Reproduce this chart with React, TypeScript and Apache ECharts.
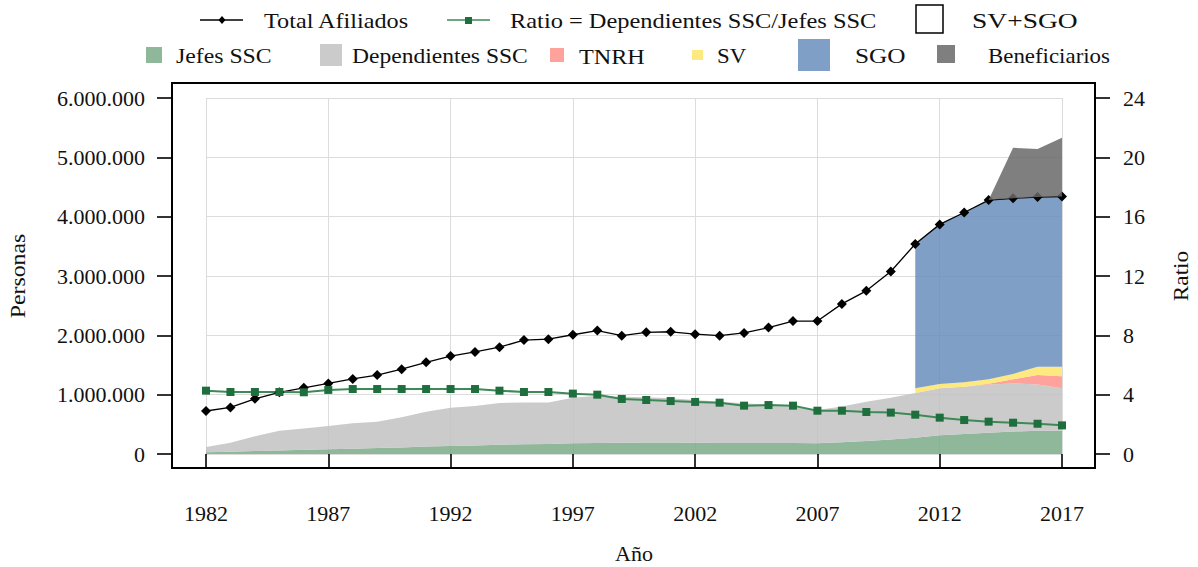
import React, { useEffect, useRef } from "react";
import * as echarts from "echarts";

const years = ["1982", "1983", "1984", "1985", "1986", "1987", "1988", "1989", "1990", "1991", "1992", "1993", "1994", "1995", "1996", "1997", "1998", "1999", "2000", "2001", "2002", "2003", "2004", "2005", "2006", "2007", "2008", "2009", "2010", "2011", "2012", "2013", "2014", "2015", "2016", "2017"];

const totalAfiliados = [725000, 785000, 930000, 1040000, 1115000, 1190000, 1265000, 1330000, 1430000, 1545000, 1650000, 1720000, 1800000, 1920000, 1935000, 2010000, 2080000, 1995000, 2050000, 2060000, 2020000, 1995000, 2040000, 2130000, 2240000, 2240000, 2530000, 2750000, 3075000, 3540000, 3870000, 4070000, 4280000, 4310000, 4330000, 4340000];

const ratio = [4.27, 4.18, 4.18, 4.18, 4.16, 4.32, 4.38, 4.38, 4.38, 4.38, 4.38, 4.38, 4.27, 4.18, 4.18, 4.07, 4.0, 3.71, 3.64, 3.57, 3.51, 3.46, 3.26, 3.3, 3.26, 2.92, 2.92, 2.83, 2.79, 2.65, 2.45, 2.29, 2.18, 2.11, 2.04, 1.93];

const jefesSSC = [30000, 40000, 50000, 60000, 70000, 80000, 90000, 100000, 110000, 125000, 135000, 145000, 155000, 165000, 170000, 180000, 185000, 190000, 195000, 195000, 190000, 185000, 185000, 185000, 185000, 180000, 200000, 220000, 245000, 275000, 315000, 335000, 360000, 380000, 390000, 390000];

const dependientesSSC = [90000, 150000, 250000, 330000, 360000, 390000, 430000, 445000, 510000, 585000, 645000, 665000, 705000, 705000, 700000, 770000, 795000, 775000, 760000, 745000, 720000, 695000, 670000, 645000, 615000, 560000, 600000, 660000, 705000, 755000, 795000, 800000, 810000, 810000, 780000, 720000];

const tnrh = [null, null, null, null, null, null, null, null, null, null, null, null, null, null, null, null, null, null, null, null, null, null, null, null, null, null, null, null, null, null, null, 0, 15000, 70000, 160000, 200000];

const sv = [null, null, null, null, null, null, null, null, null, null, null, null, null, null, null, null, null, null, null, null, null, null, null, null, null, null, null, null, null, 80000, 70000, 75000, 75000, 90000, 140000, 160000];

const sgo = [null, null, null, null, null, null, null, null, null, null, null, null, null, null, null, null, null, null, null, null, null, null, null, null, null, null, null, null, null, 2430000, 2690000, 2860000, 3020000, 2960000, 2860000, 2870000];

const beneficiarios = [null, null, null, null, null, null, null, null, null, null, null, null, null, null, null, null, null, null, null, null, null, null, null, null, null, null, null, null, null, null, null, null, 0, 850000, 810000, 990000];

const FONT = "'Liberation Serif', 'Times New Roman', serif";
const FS = 22;
const TXT = "#111";

const fmtDots = (v: number) => String(Math.round(v)).replace(/\B(?=(\d{3})+(?!\d))/g, ".");

function areaSeries(name: string, arr: (number | null)[], color: string, z: number) {
  return {
    name,
    type: "line",
    stack: "personas",
    yAxisIndex: 0,
    data: arr,
    symbol: "none",
    showSymbol: false,
    lineStyle: { width: 0, opacity: 0 },
    areaStyle: { color, opacity: 0.85 },
    z,
    silent: true,
  };
}

function legendText(x: number, y: number, text: string, sx: number) {
  return {
    type: "text",
    x,
    y,
    scaleX: sx,
    style: { text, fontSize: FS, fontFamily: FONT, fill: TXT, align: "left", verticalAlign: "middle" },
  };
}

function legendRect(x: number, y: number, w: number, h: number, fill: string, stroke?: string) {
  return {
    type: "rect",
    shape: { x, y, width: w, height: h },
    style: stroke ? { fill, stroke, lineWidth: 1.5 } : { fill },
  };
}

export default function App() {
  const ref = useRef<HTMLDivElement>(null);

  useEffect(() => {
    if (!ref.current) return;
    const chart = echarts.init(ref.current, null, { renderer: "svg" });

    const axisLabelStyle = { fontSize: FS, fontFamily: FONT, color: TXT };

    const option: any = {
      animation: false,
      backgroundColor: "#ffffff",
      grid: { left: 206, right: 136, top: 98, bottom: 113, containLabel: false },
      xAxis: {
        type: "category",
        data: years,
        boundaryGap: false,
        offset: 14,
        axisLine: { show: false },
        axisTick: { show: true, interval: 4, length: 15, lineStyle: { color: "#000", width: 1.6 } },
        axisLabel: { ...axisLabelStyle, interval: 4, margin: 34 },
        splitLine: { show: true, interval: 4, lineStyle: { color: "#dcdcdc", width: 1 } },
      },
      yAxis: [
        {
          type: "value",
          min: 0,
          max: 6000000,
          interval: 1000000,
          offset: 34,
          position: "left",
          axisLine: { show: false },
          axisTick: { show: true, length: 15, lineStyle: { color: "#000", width: 1.6 } },
          axisLabel: { ...axisLabelStyle, margin: 27, formatter: (v: number) => fmtDots(v) },
          splitLine: { show: true, lineStyle: { color: "#dcdcdc", width: 1 } },
        },
        {
          type: "value",
          min: 0,
          max: 24,
          interval: 4,
          offset: 33,
          position: "right",
          axisLine: { show: false },
          axisTick: { show: true, length: 15, lineStyle: { color: "#000", width: 1.6 } },
          axisLabel: { ...axisLabelStyle, margin: 28 },
          splitLine: { show: false },
        },
      ],
      series: [
        areaSeries("Jefes SSC", jefesSSC, "#7bab88", 1),
        areaSeries("Dependientes SSC", dependientesSSC, "#c2c2c2", 1),
        areaSeries("TNRH", tnrh, "#ff928a", 1),
        areaSeries("SV", sv, "#fde568", 1),
        areaSeries("SGO", sgo, "#688ebc", 1),
        areaSeries("Beneficiarios", beneficiarios, "#686868", 5),
        {
          name: "Total Afiliados",
          type: "line",
          yAxisIndex: 0,
          data: totalAfiliados,
          symbol: "diamond",
          symbolSize: 10,
          itemStyle: { color: "#000" },
          lineStyle: { color: "#000", width: 1.3 },
          z: 3,
          silent: true,
        },
        {
          name: "Ratio = Dependientes SSC/Jefes SSC",
          type: "line",
          yAxisIndex: 1,
          data: ratio,
          symbol: "rect",
          symbolSize: 8,
          itemStyle: { color: "#1f6e3d" },
          lineStyle: { color: "#3d8a57", width: 2 },
          z: 3,
          silent: true,
        },
      ],
      graphic: [
        {
          type: "rect",
          shape: { x: 172, y: 83, width: 923, height: 385 },
          style: { fill: "none", stroke: "#000", lineWidth: 2 },
          z: 10,
        },
        // Legend row 1
        { type: "line", shape: { x1: 200, y1: 20, x2: 243, y2: 20 }, style: { stroke: "#000", lineWidth: 1.3 } },
        { type: "polygon", shape: { points: [[222, 16], [225.5, 20], [222, 24], [218.5, 20]] }, style: { fill: "#000" } },
        legendText(264, 20, "Total Afiliados", 1.1),
        { type: "line", shape: { x1: 447, y1: 20, x2: 490, y2: 20 }, style: { stroke: "#3d8a57", lineWidth: 1.5 } },
        legendRect(465, 17, 7, 7, "#1f6e3d"),
        legendText(510, 20, "Ratio = Dependientes SSC/Jefes SSC", 1.11),
        legendRect(916, 5, 27, 28, "#ffffff", "#000"),
        legendText(972, 20, "SV+SGO", 1.25),
        // Legend row 2
        legendRect(146, 47, 16, 16, "#8fb89a"),
        legendText(176, 56, "Jefes SSC", 1.08),
        legendRect(320, 44, 22, 22, "#cbcbcb"),
        legendText(352, 56, "Dependientes SSC", 1.07),
        legendRect(550, 48, 14, 14, "#ffa29c"),
        legendText(579, 56, "TNRH", 1.1),
        legendRect(692, 50, 11, 10, "#fde97f"),
        legendText(717, 56, "SV", 1.04),
        legendRect(798, 39, 32, 32, "#7f9fc6"),
        legendText(855, 56, "SGO", 1.15),
        legendRect(937, 45, 18, 18, "#7f7f7f"),
        legendText(988, 56, "Beneficiarios", 1.04),
        // Axis titles
        {
          type: "text",
          x: 18,
          y: 276,
          rotation: Math.PI / 2,
          scaleX: 1.08,
          style: { text: "Personas", fontSize: FS, fontFamily: FONT, fill: TXT, align: "center", verticalAlign: "middle" },
        },
        {
          type: "text",
          x: 1181,
          y: 276,
          rotation: Math.PI / 2,
          scaleX: 1.06,
          style: { text: "Ratio", fontSize: FS, fontFamily: FONT, fill: TXT, align: "center", verticalAlign: "middle" },
        },
        {
          type: "text",
          x: 634,
          y: 553,
          style: { text: "Año", fontSize: FS, fontFamily: FONT, fill: TXT, align: "center", verticalAlign: "middle" },
        },
      ],
    };

    chart.setOption(option);
    return () => {
      chart.dispose();
    };
  }, []);

  return (
    <div
      ref={ref}
      style={{ position: "absolute", left: 0, top: 0, width: 1198, height: 567, background: "#fff" }}
    />
  );
}
